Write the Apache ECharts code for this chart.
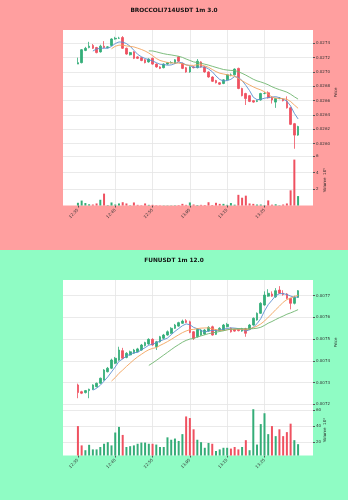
<!DOCTYPE html>
<html>
<head>
<meta charset="utf-8">
<script src="https://cdn.jsdelivr.net/npm/echarts@6/dist/echarts.min.js"></script>
<style>
html, body { margin: 0; padding: 0; }
#top { width: 348px; height: 250px; background: #ff9f9f; }
#bot { width: 348px; height: 250px; background: #8ffcc4; }
</style>
</head>
<body>
<div id="top"></div>
<div id="bot"></div>
<script>
// 1m candles, 12:35 .. 13:34
const brocOpen = [0.02711,0.02713,0.02730,0.02734,0.02737,0.02734,0.02728,0.02736,0.02734,0.02737,0.02746,0.02747,0.02748,0.02733,0.02724,0.02728,0.02721,0.02720,0.02717,0.02714,0.02719,0.02711,0.02707,0.02706,0.02711,0.02713,0.02712,0.02721,0.02712,0.02706,0.02700,0.02707,0.02706,0.02714,0.02707,0.02700,0.02693,0.02688,0.02685,0.02684,0.02689,0.02696,0.02696,0.02705,0.02677,0.02670,0.02667,0.02660,0.02659,0.02661,0.02670,0.02671,0.02665,0.02658,0.02663,0.02662,0.02659,0.02650,0.02628,0.02612];
const brocClose = [0.02713,0.02731,0.02733,0.02736,0.02733,0.02727,0.02736,0.02734,0.02735,0.02746,0.02747,0.02747,0.02733,0.02725,0.02727,0.02719,0.02719,0.02716,0.02713,0.02718,0.02711,0.02707,0.02705,0.02711,0.02713,0.02713,0.02717,0.02715,0.02705,0.02700,0.02707,0.02706,0.02715,0.02707,0.02700,0.02693,0.02687,0.02685,0.02683,0.02689,0.02696,0.02696,0.02704,0.02677,0.02667,0.02663,0.02659,0.02658,0.02660,0.02670,0.02670,0.02664,0.02661,0.02663,0.02663,0.02660,0.02650,0.02627,0.02612,0.02624];
const brocLow = [0.02711,0.02712,0.02729,0.02733,0.02732,0.02726,0.02727,0.02733,0.02733,0.02736,0.02745,0.02746,0.02732,0.02724,0.02723,0.02718,0.02718,0.02715,0.02712,0.02713,0.02710,0.02706,0.02704,0.02705,0.02710,0.02712,0.02711,0.02714,0.02704,0.02699,0.02699,0.02705,0.02705,0.02706,0.02699,0.02692,0.02686,0.02684,0.02682,0.02683,0.02688,0.02694,0.02695,0.02676,0.02666,0.02654,0.02658,0.02657,0.02658,0.02660,0.02669,0.02663,0.02656,0.02650,0.02662,0.02659,0.02649,0.02626,0.02593,0.02611];
const brocHigh = [0.02720,0.02732,0.02735,0.02742,0.02739,0.02735,0.02738,0.02743,0.02736,0.02747,0.02749,0.02749,0.02750,0.02734,0.02728,0.02729,0.02722,0.02721,0.02718,0.02719,0.02720,0.02712,0.02708,0.02712,0.02714,0.02715,0.02718,0.02722,0.02713,0.02707,0.02708,0.02708,0.02718,0.02715,0.02708,0.02701,0.02694,0.02689,0.02686,0.02690,0.02697,0.02698,0.02705,0.02706,0.02678,0.02671,0.02668,0.02661,0.02661,0.02671,0.02672,0.02673,0.02666,0.02664,0.02665,0.02663,0.02666,0.02651,0.02629,0.02625];
const brocVol = [0.33,0.6,0.3,0.15,0.12,0.25,0.7,1.45,0.05,0.37,0.12,0.25,0.4,0.25,0.04,0.37,0.08,0.04,0.25,0.08,0.08,0.04,0.03,0.03,0.03,0.03,0.04,0.05,0.2,0.08,0.37,0.12,0.06,0.08,0.06,0.4,0.06,0.33,0.2,0.2,0.08,0.3,0.1,1.3,0.95,1.2,0.25,0.2,0.12,0.12,0.04,0.62,0.1,0.15,0.04,0.12,0.25,1.85,5.6,1.15];

const funOpen = [0.007289,0.007258,0.007254,0.007263,0.007269,0.007281,0.007297,0.007312,0.007350,0.007366,0.007389,0.007404,0.007447,0.007416,0.007427,0.007435,0.007442,0.007450,0.007470,0.007478,0.007499,0.007465,0.007488,0.007504,0.007519,0.007527,0.007550,0.007560,0.007573,0.007585,0.007580,0.007534,0.007511,0.007519,0.007524,0.007537,0.007557,0.007522,0.007539,0.007542,0.007557,0.007550,0.007545,0.007545,0.007537,0.007548,0.007545,0.007565,0.007588,0.007619,0.007657,0.007698,0.007708,0.007695,0.007726,0.007711,0.007708,0.007688,0.007665,0.007692];
const funClose = [0.007254,0.007251,0.007263,0.007269,0.007289,0.007297,0.007320,0.007358,0.007366,0.007404,0.007412,0.007450,0.007412,0.007435,0.007442,0.007450,0.007455,0.007473,0.007484,0.007499,0.007473,0.007488,0.007511,0.007519,0.007534,0.007550,0.007565,0.007576,0.007583,0.007577,0.007531,0.007504,0.007545,0.007542,0.007542,0.007554,0.007519,0.007542,0.007550,0.007565,0.007568,0.007534,0.007537,0.007539,0.007548,0.007527,0.007565,0.007596,0.007619,0.007665,0.007703,0.007711,0.007698,0.007723,0.007711,0.007706,0.007688,0.007665,0.007692,0.007723];
const funLow = [0.007228,0.007247,0.007250,0.007228,0.007266,0.007278,0.007294,0.007309,0.007347,0.007362,0.007385,0.007400,0.007408,0.007412,0.007424,0.007432,0.007440,0.007447,0.007466,0.007474,0.007470,0.007450,0.007484,0.007500,0.007516,0.007524,0.007547,0.007557,0.007570,0.007574,0.007527,0.007496,0.007507,0.007516,0.007520,0.007534,0.007516,0.007519,0.007536,0.007539,0.007554,0.007530,0.007534,0.007536,0.007534,0.007511,0.007542,0.007562,0.007585,0.007616,0.007654,0.007695,0.007695,0.007690,0.007708,0.007700,0.007684,0.007637,0.007660,0.007690];
const funHigh = [0.007295,0.007262,0.007266,0.007272,0.007292,0.007300,0.007323,0.007362,0.007372,0.007410,0.007418,0.007465,0.007460,0.007440,0.007447,0.007455,0.007460,0.007478,0.007488,0.007504,0.007504,0.007492,0.007515,0.007524,0.007540,0.007555,0.007570,0.007580,0.007590,0.007592,0.007585,0.007537,0.007550,0.007546,0.007546,0.007560,0.007562,0.007546,0.007555,0.007570,0.007575,0.007554,0.007548,0.007548,0.007552,0.007552,0.007570,0.007600,0.007623,0.007670,0.007720,0.007730,0.007720,0.007735,0.007744,0.007725,0.007712,0.007690,0.007700,0.007726];
const funVol = [40,16,10,16.7,11,11,14,18,20,16,32,39,29,14,15,16,18,19.5,19.5,18,18,17,14,14,26,23,24.5,21.5,30,52,50,36,23,20,13,19,18,9,11,13,13,12,14,11,14,22.5,10,61,17,42.5,56,30,40,27.5,36,27.5,32.5,43,22.5,17.5];

const maPeriods = [5, 10, 20];
const maColors = ['#5a8fd0', '#f2a45e', '#6fb56f'];
const upColor = '#34ad78';
const downColor = '#ef5160';

// axis slots: 12:31 .. 13:38, candles start at 12:35
const firstSlotMinute = 12 * 60 + 31;
const slotCount = 68;
const leadSlots = 4;

const slots = [];
for (let k = 0; k < slotCount; k++) {
    const m = firstSlotMinute + k;
    slots.push(Math.floor(m / 60) + ':' + String(m % 60).padStart(2, '0'));
}

function movingAverage(closes, n) {
    return closes.map((c, i) => {
        if (i < n - 1) return '-';
        let s = 0;
        for (let j = i - n + 1; j <= i; j++) s += closes[j];
        return s / n;
    });
}

function pad(arr) {
    return new Array(leadSlots).fill('-').concat(arr);
}

const font = 'DejaVu Sans';

function buildChart(dom, cfg) {
    const chart = echarts.init(dom, null, { renderer: 'canvas' });
    const candles = cfg.open.map((o, i) => [o, cfg.close[i], cfg.low[i], cfg.high[i]]);
    const vols = cfg.vol.map((v, i) => ({
        value: v,
        itemStyle: { color: cfg.close[i] >= cfg.open[i] ? upColor : downColor }
    }));
    const gridLine = {
        show: true, showMinLine: false, showMaxLine: false,
        lineStyle: { color: '#e4e4e4', width: 0.8 }
    };
    const splitEvery10 = (idx) => idx >= leadSlots && (idx - leadSlots) % 10 === 0;
    const labelEvery10 = (idx) => splitEvery10(idx) && idx <= leadSlots + 50;
    const xBase = {
        type: 'category',
        data: slots,
        boundaryGap: false,
        axisLine: { show: false },
        splitLine: Object.assign({}, gridLine, { interval: splitEvery10 })
    };
    const yLabel = {
        fontSize: 4, color: '#333', margin: 3, fontFamily: font,
        showMinLabel: false, showMaxLabel: false
    };
    const nameStyle = { fontSize: 4, color: '#222', fontFamily: font };
    const option = {
        animation: false,
        title: {
            text: cfg.title, left: 'center', top: 2,
            textStyle: { fontSize: 5.8, fontWeight: 'bold', color: '#111', fontFamily: font }
        },
        grid: [
            { left: 63, right: 35, top: 30, height: 125, show: true, backgroundColor: '#fff', borderWidth: 0 },
            { left: 63, right: 35, top: 155, height: 50.5, show: true, backgroundColor: '#fff', borderWidth: 0 }
        ],
        xAxis: [
            Object.assign({ gridIndex: 0, axisTick: { show: false }, axisLabel: { show: false } }, xBase),
            Object.assign({
                gridIndex: 1,
                axisTick: { show: true, interval: labelEvery10, length: 2, lineStyle: { color: '#555' } },
                axisLabel: { interval: labelEvery10, rotate: 45, fontSize: 4, color: '#333', margin: 4, fontFamily: font }
            }, xBase)
        ],
        yAxis: [
            {
                gridIndex: 0, type: 'value', position: 'right', scale: true,
                min: cfg.priceMin, max: cfg.priceMax,
                minInterval: cfg.priceStep, maxInterval: cfg.priceStep,
                axisLine: { show: false },
                axisTick: { show: true, length: 2, lineStyle: { color: '#555' } },
                axisLabel: Object.assign({ formatter: (v) => v.toFixed(4) }, yLabel),
                splitLine: gridLine,
                name: 'Price', nameLocation: 'middle', nameRotate: 90, nameGap: 21,
                nameMoveOverlap: false, nameTextStyle: nameStyle
            },
            {
                gridIndex: 1, type: 'value', position: 'right',
                min: cfg.volMin, max: cfg.volMax,
                minInterval: cfg.volStep, maxInterval: cfg.volStep,
                axisLine: { show: false },
                axisTick: { show: true, length: 2, lineStyle: { color: '#555' } },
                axisLabel: Object.assign({ formatter: (v) => String(Math.round(v)) }, yLabel),
                splitLine: gridLine,
                name: cfg.volName, nameLocation: 'middle', nameRotate: 90, nameGap: 10,
                nameMoveOverlap: false, nameTextStyle: nameStyle
            }
        ],
        series: [
            {
                type: 'candlestick', xAxisIndex: 0, yAxisIndex: 0,
                data: pad(candles), barWidth: 2.2,
                itemStyle: {
                    color: upColor, color0: downColor,
                    borderColor: upColor, borderColor0: downColor, borderWidth: 0.8
                }
            },
            ...maPeriods.map((n, k) => ({
                type: 'line', xAxisIndex: 0, yAxisIndex: 0,
                data: pad(movingAverage(cfg.close, n)),
                showSymbol: false, smooth: false,
                lineStyle: { color: maColors[k], width: 0.9 }
            })),
            {
                type: 'bar', xAxisIndex: 1, yAxisIndex: 1,
                data: pad(vols), barWidth: 2
            }
        ]
    };
    chart.setOption(option);
    return chart;
}

buildChart(document.getElementById('top'), {
    title: 'BROCCOLI714USDT 1m 3.0',
    open: brocOpen, close: brocClose, low: brocLow, high: brocHigh, vol: brocVol,
    priceMin: 0.025843, priceMax: 0.027585, priceStep: 0.0002,
    volMin: 0, volMax: 6.16, volStep: 2,
    volName: 'Volume  10\u2075'
});

buildChart(document.getElementById('bot'), {
    title: 'FUNUSDT 1m 12.0',
    open: funOpen, close: funClose, low: funLow, high: funHigh, vol: funVol,
    priceMin: 0.0071968, priceMax: 0.0077723, priceStep: 0.0001,
    volMin: 3.4, volMax: 66.25, volStep: 20,
    volName: 'Volume  10\u2074'
});
</script>
</body>
</html>
